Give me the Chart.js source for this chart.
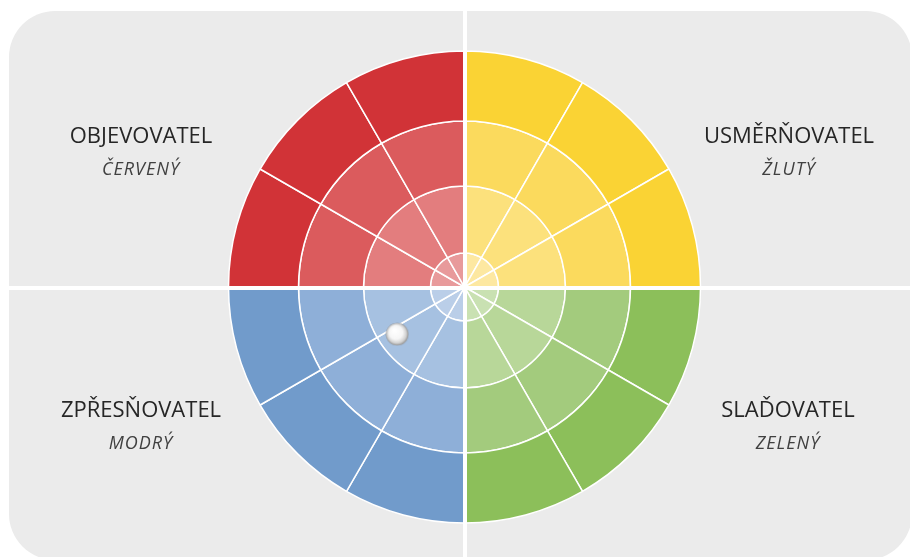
<!DOCTYPE html>
<html>
<head>
<meta charset="utf-8">
<script src="https://cdn.jsdelivr.net/npm/chart.js@4.4.1/dist/chart.umd.min.js"></script>
<style>
    html, body { margin: 0; padding: 0; background: #ffffff; }
    #stage { position: relative; width: 910px; height: 557px; overflow: hidden; font-family: "Open Sans", "DejaVu Sans", sans-serif; }
    .panel { position: absolute; left: 9px; top: 11px; width: 903px; height: 549px; background: #ebebeb; border-radius: 46px; }
    .layer { position: absolute; left: 0; top: 0; width: 910px; height: 557px; }
    .vline { position: absolute; left: 463px; top: 0; width: 4px; height: 557px; background: #ffffff; }
    .hline { position: absolute; left: 0; top: 286px; width: 910px; height: 4px; background: #ffffff; }
    .title { position: absolute; width: 300px; text-align: center; font-size: 22px; line-height: 22px; color: #262626; }
    .sub { position: absolute; width: 300px; text-align: center; font-size: 18px; line-height: 18px; letter-spacing: 1px; font-style: italic; color: #404040; }
</style>
</head>
<body>
<div id="stage">
    <div class="panel"></div>
    <div class="layer"><canvas id="wheelChart"></canvas></div>
    <div class="vline"></div>
    <div class="hline"></div>
    <div class="layer"><canvas id="markerChart"></canvas></div>
    <div id="labels"></div>
</div>
<script>
// Quadrant names (clockwise from top)
const quadrants = ['USMĚRŇOVATEL', 'SLAĎOVATEL', 'ZPŘESŇOVATEL', 'OBJEVOVATEL'];
const quadrantColours = ['ŽLUTÝ', 'ZELENÝ', 'MODRÝ', 'ČERVENÝ'];

// 12 equal slices, 3 per quadrant
const sliceValues = [1, 1, 1, 1, 1, 1, 1, 1, 1, 1, 1, 1];

// Ring thickness (outer -> inner)
const ringWeights = [70, 65, 67, 34];

// Ring shades per quadrant (outer -> inner)
const yellowShades = ['#fad334', '#fbda5d', '#fce17c', '#fde8a1'];
const greenShades = ['#8cbf5a', '#a3cb7d', '#b8d799', '#c9e1b2'];
const blueShades = ['#719bcb', '#8eafd8', '#a6c1e1', '#bacee8'];
const redShades = ['#d13337', '#db5b5d', '#e37d7e', '#e89a9b'];

// Marker position (x, y in units of the wheel radius)
const markerX = [-0.285];
const markerY = [-0.2];

const labelPos = [
    { x: 789, title: 142, sub: 175 },
    { x: 788, title: 416, sub: 449 },
    { x: 141, title: 416, sub: 449 },
    { x: 141, title: 142, sub: 175 }
];

function ringColours(i) {
    const out = [];
    [yellowShades, greenShades, blueShades, redShades].forEach(shades => {
        out.push(shades[i], shades[i], shades[i]);
    });
    return out;
}

function makeSphere() {
    const c = document.createElement('canvas');
    c.width = 24; c.height = 24;
    const g = c.getContext('2d');
    const grad = g.createRadialGradient(9, 8, 1, 12, 12, 11.5);
    grad.addColorStop(0, '#ffffff');
    grad.addColorStop(0.55, '#f6f6f6');
    grad.addColorStop(0.82, '#d0d0d0');
    grad.addColorStop(1, '#8c8c8c');
    g.fillStyle = grad;
    g.beginPath();
    g.arc(12, 12, 11.3, 0, Math.PI * 2);
    g.fill();
    return c;
}

function addLabels() {
    const box = document.getElementById('labels');
    quadrants.forEach((name, i) => {
        const p = labelPos[i];
        const t = document.createElement('div');
        t.className = 'title';
        t.style.left = (p.x - 150) + 'px';
        t.style.top = (p.title - 19.5) + 'px';
        t.textContent = name;
        box.appendChild(t);
        const s = document.createElement('div');
        s.className = 'sub';
        s.style.left = (p.x - 150) + 'px';
        s.style.top = (p.sub - 16) + 'px';
        s.textContent = quadrantColours[i];
        box.appendChild(s);
    });
}

function initializeCharts() {
    if (typeof Chart === 'undefined') {
        console.warn('Chart.js not available');
        return;
    }

    new Chart(document.getElementById('wheelChart'), {
        type: 'doughnut',
        data: {
            labels: sliceValues.map((v, i) => quadrants[Math.floor(i / 3)]),
            datasets: ringWeights.map((w, i) => ({
                data: sliceValues,
                weight: w,
                backgroundColor: ringColours(i),
                borderColor: '#ffffff',
                borderWidth: 1.5,
                hoverOffset: 0
            }))
        },
        options: {
            responsive: true,
            maintainAspectRatio: false,
            animation: false,
            cutout: 0,
            radius: 236,
            layout: { padding: { left: 19, top: 17, right: 0, bottom: 0 } },
            plugins: { legend: { display: false }, tooltip: { enabled: false } },
            events: []
        }
    });

    new Chart(document.getElementById('markerChart'), {
        type: 'scatter',
        data: {
            datasets: [{
                data: markerX.map((x, i) => ({ x: x, y: markerY[i] })),
                pointStyle: makeSphere(),
                pointRadius: 12
            }]
        },
        options: {
            responsive: true,
            maintainAspectRatio: false,
            animation: false,
            layout: { padding: { left: 228.5, right: 209.5, top: 51, bottom: 34 } },
            scales: {
                x: { display: false, min: -1, max: 1 },
                y: { display: false, min: -1, max: 1 }
            },
            plugins: { legend: { display: false }, tooltip: { enabled: false } },
            events: []
        }
    });
}

addLabels();
initializeCharts();
</script>
</body>
</html>
